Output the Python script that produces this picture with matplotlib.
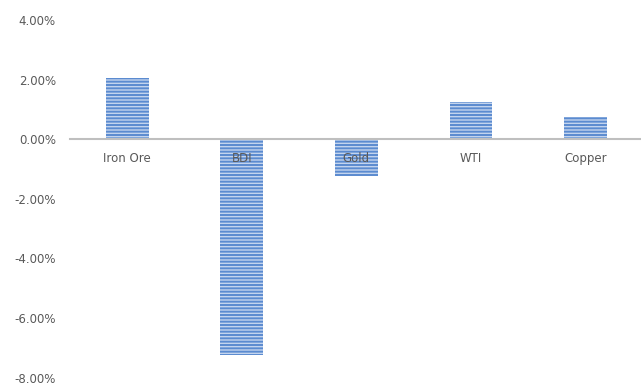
import matplotlib.pyplot as plt
from matplotlib.ticker import PercentFormatter

categories = ["Iron Ore", "BDI", "Gold", "WTI", "Copper"]
changes = [2.05, -7.25, -1.22, 1.26, 0.76]   # percent
y_ticks = [4, 2, 0, -2, -4, -6, -8]

plt.rcParams['font.family'] = ['DejaVu Sans']
plt.rcParams['axes.unicode_minus'] = False
plt.rcParams['hatch.linewidth'] = 1.4

fig = plt.figure(figsize=(6.41, 3.86), dpi=100)
ax = fig.add_axes([0.109, 0.022, 0.894, 0.926])

x = range(len(categories))
ax.bar(x, changes, width=0.375, color='#c3d4ee', edgecolor='#5b8bd0',
       linewidth=0, hatch='-----', zorder=1)

ax.set_xlim(-0.5, len(categories) - 0.5)
ax.set_ylim(-8, 4)
ax.set_yticks(y_ticks)
ax.yaxis.set_major_formatter(PercentFormatter(decimals=2))

ax.set_xticks(list(x))
ax.set_xticklabels(categories)
ax.spines['bottom'].set_position(('data', 0))
ax.spines['bottom'].set_color('#bfbfbf')
ax.spines['bottom'].set_linewidth(1.5)
for side in ['top', 'right', 'left']:
    ax.spines[side].set_visible(False)

ax.tick_params(axis='x', length=0, pad=9, labelsize=8.5, labelcolor='#595959')
ax.tick_params(axis='y', length=0, pad=10, labelsize=8.5, labelcolor='#595959')

fig.savefig('out.png', dpi=100)
